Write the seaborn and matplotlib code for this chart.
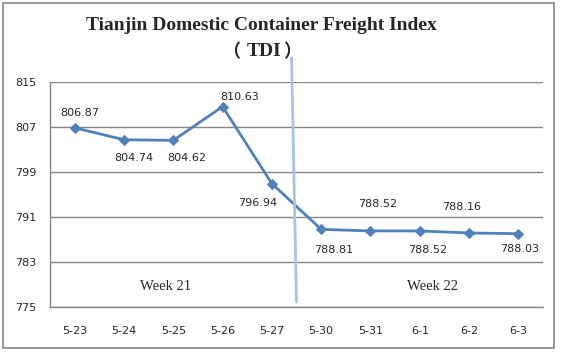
import numpy as np
import pandas as pd
import seaborn as sns
import matplotlib.pyplot as plt
from matplotlib.patches import Rectangle

dates = ["5-23", "5-24", "5-25", "5-26", "5-27", "5-30", "5-31", "6-1", "6-2", "6-3"]
tdi = [806.87, 804.74, 804.62, 810.63, 796.94, 788.81, 788.52, 788.52, 788.16, 788.03]
week_labels = ["Week 21", "Week 22"]
week21_days = 5
y_ticks = [775, 783, 791, 799, 807, 815]

# label offsets in pixels (dx, dy)
label_offsets = [(5, 15), (10, -18), (14, -18), (17, 10), (-14, -19),
                 (13, -21), (7, 27), (8, -19), (-7, 26), (1, -15)]

sns.set_style("white")
plt.rcParams['font.family'] = ['DejaVu Sans']

df = pd.DataFrame({"pos": np.arange(len(dates)), "tdi": tdi})

fig = plt.figure(figsize=(5.62, 3.54), dpi=100)
ax = fig.add_axes([50 / 562, 1 - 307 / 354, 493 / 562, 225 / 354])

line_color = "#4F81BD"
sns.lineplot(data=df, x="pos", y="tdi", ax=ax, color=line_color, marker="D",
             markersize=5, markeredgecolor=line_color, linewidth=2, sort=False)

ax.set_xlim(-0.5, len(dates) - 0.5)
ax.set_ylim(y_ticks[0], y_ticks[-1])
ax.set_yticks(y_ticks)
ax.yaxis.grid(True, color="#868686", linewidth=1)
ax.set_axisbelow(True)
ax.set_xticks(np.arange(len(dates)))
ax.set_xticklabels(dates)
ax.set_xticks(np.arange(len(dates) + 1) - 0.5, minor=True)
ax.tick_params(axis="x", which="major", length=0, pad=14, labelsize=8)
ax.tick_params(axis="x", which="minor", length=4, color="#868686", direction="out")
ax.tick_params(axis="y", length=4, color="#868686", direction="out", labelsize=8, pad=6)
ax.set_xlabel("")
ax.set_ylabel("")
for s in ["top", "right"]:
    ax.spines[s].set_visible(False)
for s in ["left", "bottom"]:
    ax.spines[s].set_color("#868686")
    ax.spines[s].set_linewidth(1)

for i, (v, off) in enumerate(zip(tdi, label_offsets)):
    ax.annotate(f"{v:.2f}", (i, v), xytext=off, textcoords="offset pixels",
                ha="center", va="center", fontsize=8)

# week divider
b = week21_days - 0.5
ax.plot([b, b - 0.1], [775.9, 819.3], color="#A7C4E6", linewidth=2, clip_on=False)

ax.text(1.84, 778.6, week_labels[0], family="Liberation Serif", fontsize=10.5,
        ha="center", va="center")
ax.text(7.25, 778.6, week_labels[1], family="Liberation Serif", fontsize=10.5,
        ha="center", va="center")

fig.text(261 / 562, 1 - 25 / 354, "Tianjin Domestic Container Freight Index",
         family="Liberation Serif", fontweight="bold",
         fontsize=14, ha="center", va="center")
fig.text(264 / 562, 1 - 52 / 354, "TDI", family="Liberation Serif",
         fontweight="bold", fontsize=14, ha="center", va="center")
fig.text(240 / 562, 1 - 52 / 354, "（", family="Noto Sans CJK SC",
         fontweight="bold", fontsize=13, ha="right", va="center")
fig.text(283 / 562, 1 - 52 / 354, "）", family="Noto Sans CJK SC",
         fontweight="bold", fontsize=13, ha="left", va="center")

fig.patches.append(Rectangle((3 / 562, 1 - 348 / 354), 551 / 562, 345 / 354,
                             transform=fig.transFigure, fill=False,
                             edgecolor="#868686", linewidth=1.2))

fig.savefig("out.png", dpi=100)
